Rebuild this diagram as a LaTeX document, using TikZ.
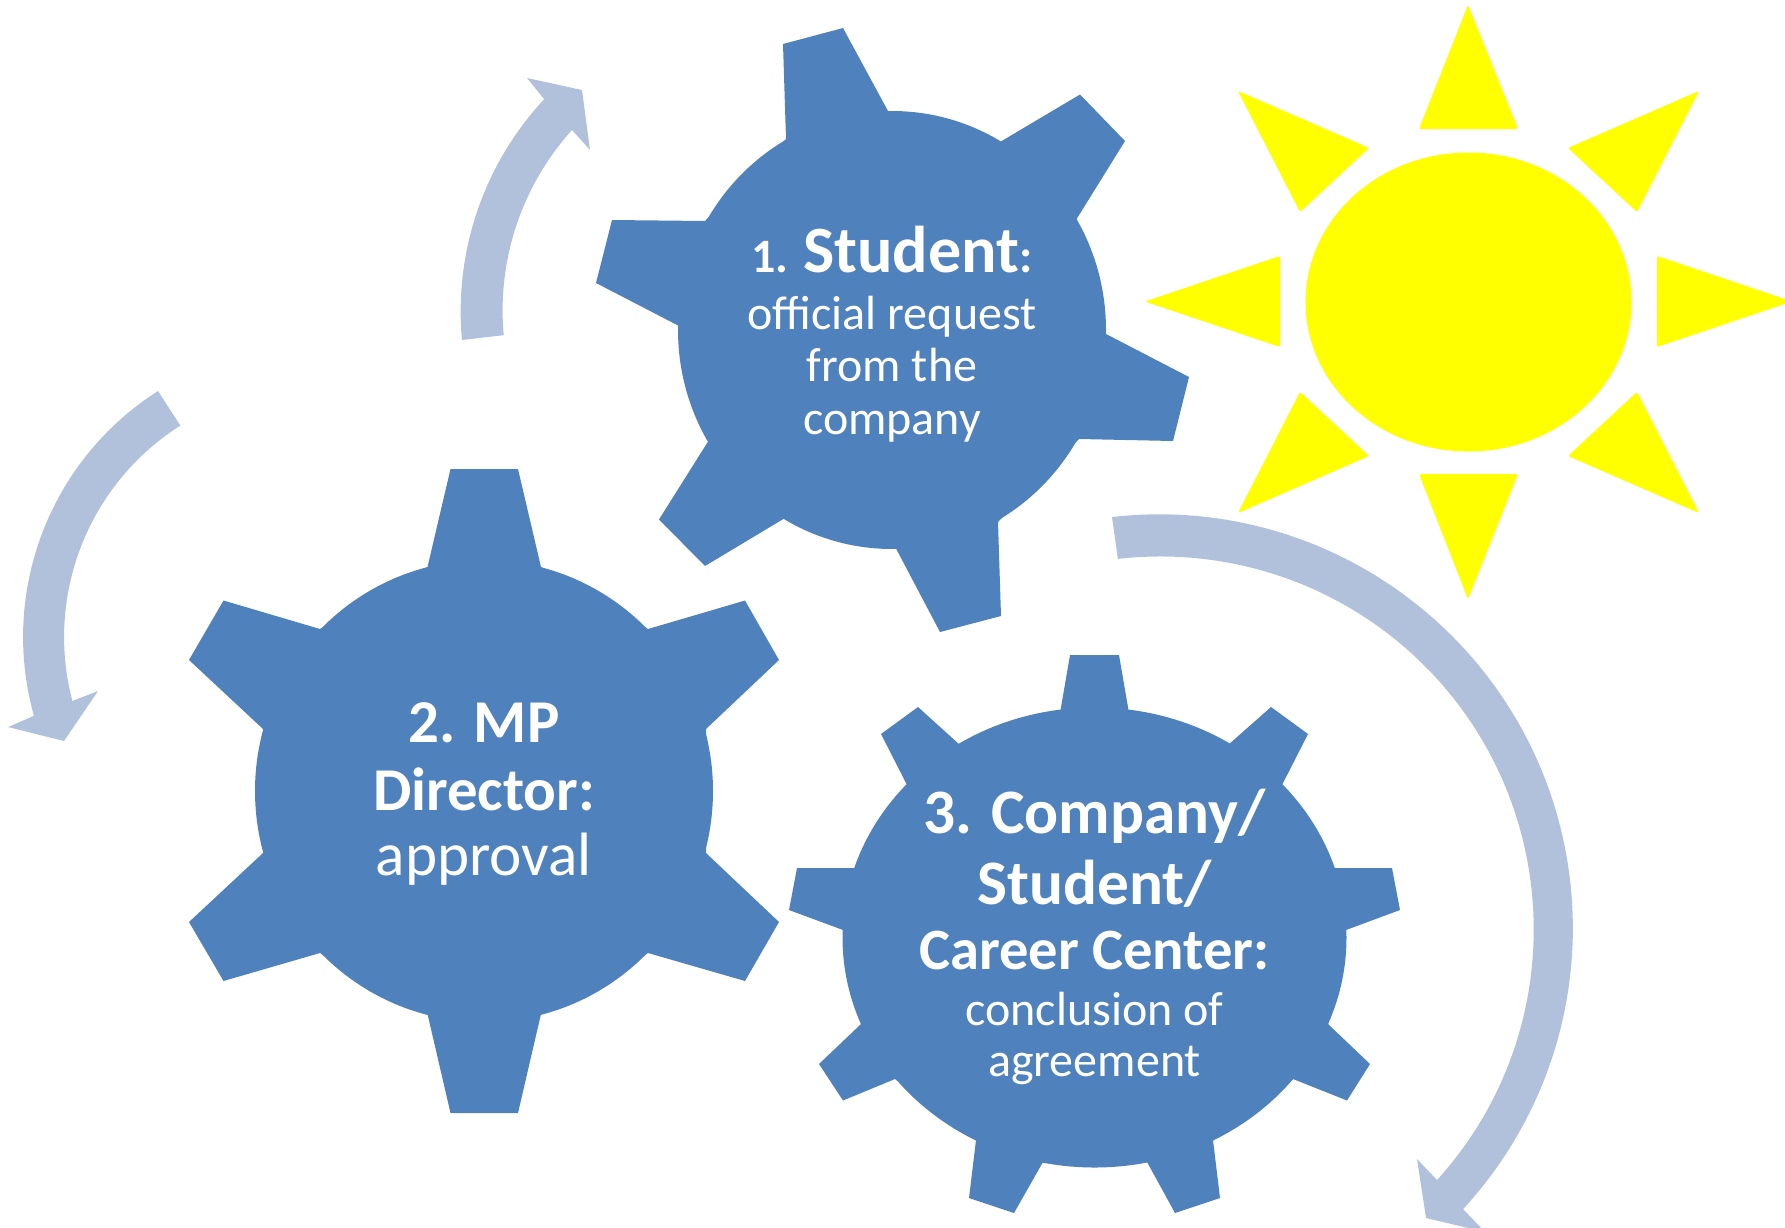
\documentclass[tikz,border=0pt]{standalone}
\usepackage{fontspec}
\setmainfont{Carlito}
\definecolor{gearblue}{HTML}{4F81BD}
\definecolor{arrowblue}{HTML}{B1C1DC}
\definecolor{sunyellow}{HTML}{FFFF00}

\begin{document}
\lineskiplimit=-1000pt
\begin{tikzpicture}[x=0.01cm,y=-0.01cm,
    gearfill/.style={fill=gearblue},
    arrowfill/.style={fill=arrowblue},
    sunfill/.style={fill=sunyellow},
    sunray/.style={fill=sunyellow,rounded corners=0.6pt},
    gearlabel/.style={text=white,align=center,inner sep=0pt,
        font=\fontsize{13.65}{15}\selectfont}]
\useasboundingbox (0,0) rectangle (1785,1227);

% Return arrows
\fill[arrowfill] (462,340) arc[start angle=174.7,end angle=223,radius=311]
    -- (527,78) -- (582,90) -- (590,150) -- (572,130)
    arc[start angle=222.1,end angle=174.7,radius=269] -- cycle;
\fill[arrowfill] (158,391) arc[start angle=237.5,end angle=164.3,radius=291.6]
    -- (8,727) -- (64,741) -- (98,691) -- (72.4,701)
    arc[start angle=165.2,end angle=237.6,radius=250.5] -- cycle;
\fill[arrowfill] (1112,517) arc[start angle=-96.5,end angle=42.7,radius=414]
    -- (1485,1232) -- (1426,1218) -- (1417,1159) -- (1437,1180)
    arc[start angle=42.2,end angle=-96.6,radius=373] -- cycle;

% Sun
\fill[sunfill] (1468.5,302) ellipse[x radius=163,y radius=149.5];
\foreach \ax/\ay/\bx/\by/\cx/\cy in {
    1468/5/1419/129/1518/129, 1699/91/1568/148/1637/212,
    1792/301.5/1657/256/1657/347, 1699/513/1568/456/1637/392,
    1468/599/1419/474/1518/474, 1238/513/1369/456/1300/392,
    1145/301.5/1280/256/1280/347, 1238/91/1369/148/1300/212}
    \fill[sunray] (\ax,\ay) -- (\bx,\by) -- (\cx,\cy) -- cycle;

% Gear 1
\fill[gearfill] (892,330) ellipse[x radius=214,y radius=219];
\fill[gearfill] (783,44) -- (843,28) -- (888,111) -- (1000,142) -- (1080,94.5)
    -- (1125,141) -- (1076,220) -- (1106,334) -- (1189,377) -- (1173,441)
    -- (1079,439) -- (998,522) -- (1001,616) -- (940,632) -- (896,548.5)
    -- (785,518) -- (705,566) -- (659,519.5) -- (709,440) -- (679,326)
    -- (596,283) -- (612,220) -- (705,221) -- (786,139) -- cycle;

% Gear 2
\fill[gearfill] (484,791) ellipse[x radius=229,y radius=231];
\fill[gearfill] (450.5,469) -- (518,469) -- (541,567) -- (648,629) -- (745,600.5)
    -- (779,660) -- (706,729) -- (706,853) -- (779,922) -- (745,981)
    -- (648,953) -- (541,1014) -- (518,1113) -- (450.5,1113) -- (427.5,1014)
    -- (320,953) -- (223.5,981) -- (189,922) -- (263,853) -- (263,729)
    -- (189,660) -- (223.5,600.5) -- (320,629) -- (427.5,567) -- cycle;

% Gear 3
\fill[gearfill] (1094.5,937.5) ellipse[x radius=252,y radius=230];
\fill[gearfill] (1070,655) -- (1119,655) -- (1129,713) -- (1228,745) -- (1271,707)
    -- (1308,734) -- (1282,785) -- (1334,868) -- (1392,868) -- (1400,910)
    -- (1346,930) -- (1328,1024) -- (1370,1064) -- (1347,1100.5) -- (1293,1079)
    -- (1213,1140) -- (1220,1198) -- (1175,1213) -- (1147,1162) -- (1043,1162)
    -- (1014,1213) -- (969,1198) -- (976,1140) -- (895,1079) -- (843,1100.5)
    -- (819,1064) -- (861,1024) -- (843,930) -- (789,910) -- (797,868)
    -- (856,868) -- (907,785) -- (881,734) -- (918,707) -- (960,745)
    -- (1060,713) -- cycle;

% Labels
\node[gearlabel] (student) at (892,334) {{\bfseries 1. {\fontsize{18.8}{15}\selectfont Student}:}\\[1.2pt]
    official request\\from the\\company};
\node[gearlabel,font=\fontsize{17.4}{15}\selectfont] (director) at (484,794)
    {{\bfseries\fontsize{17.3}{15}\selectfont 2. MP}\\[4.3pt]{\bfseries\fontsize{17.3}{15}\selectfont Director:}\\[3.7pt]approval};
\node[gearlabel] (company) at (1094.5,937) {{\bfseries\fontsize{18}{15}\selectfont 3. Company/}\\[5.2pt]
    {\bfseries\fontsize{18}{15}\selectfont Student/}\\[3.5pt]
    {\bfseries\fontsize{16.65}{15}\selectfont Career Center:}\\[1pt]
    conclusion of\\[-0.5pt]agreement};
\end{tikzpicture}
\end{document}
